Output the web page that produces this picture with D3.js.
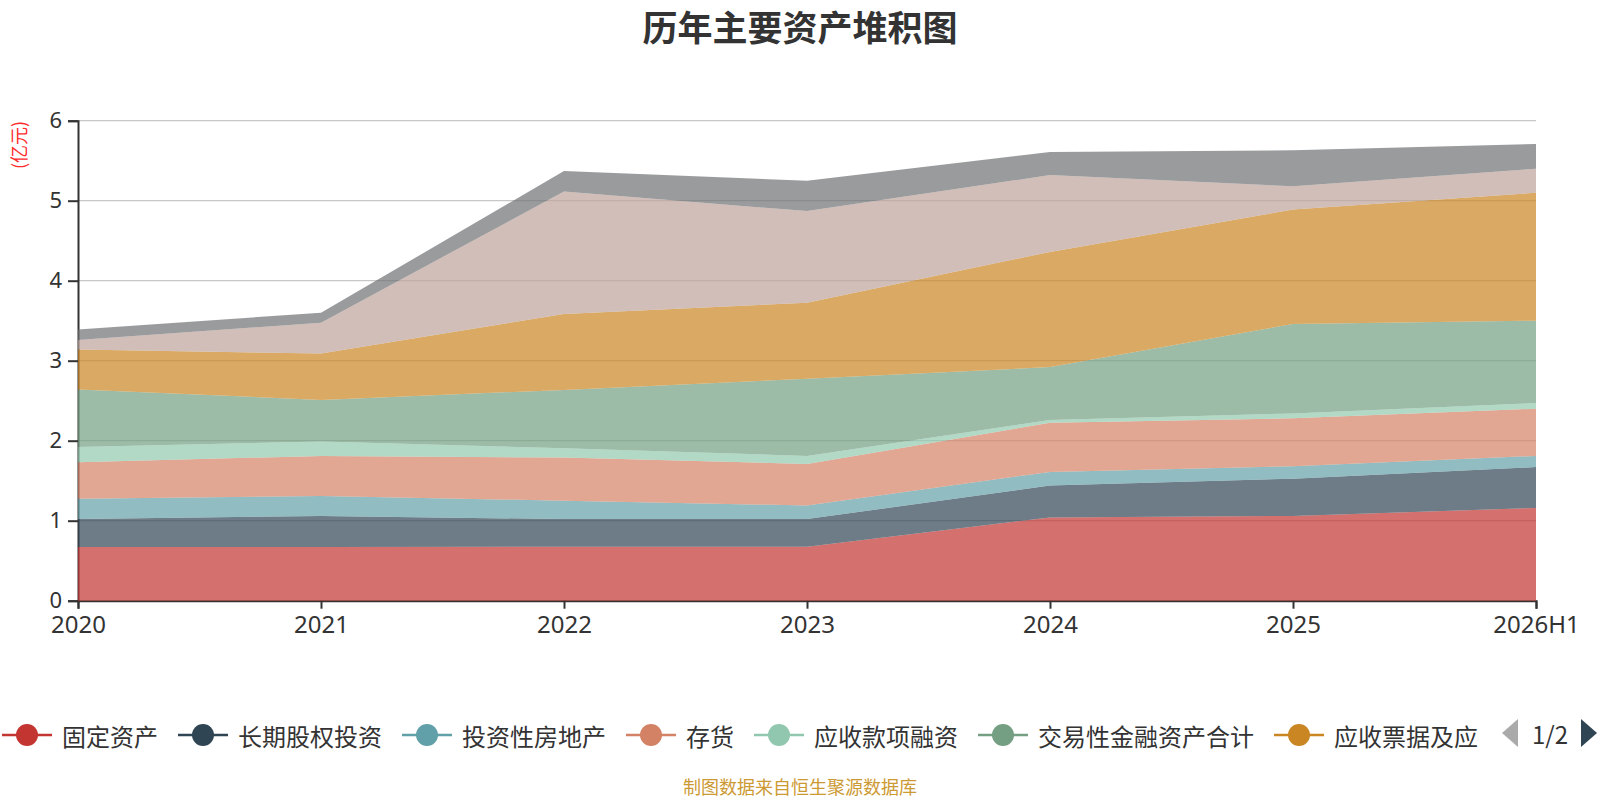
<!DOCTYPE html>
<html lang="zh">
<head>
<meta charset="utf-8">
<title>历年主要资产堆积图</title>
<script src="https://d3js.org/d3.v7.min.js"></script>
<style>
  body { margin: 0; background: #fff; }
  text { font-family: "Noto Sans CJK SC", "Noto Sans", sans-serif; }
</style>
</head>
<body>
<div id="chart"></div>
<script>
// data (亿元)
var categories = ["2020", "2021", "2022", "2023", "2024", "2025", "2026H1"];
var seriesNames = ["固定资产", "长期股权投资", "投资性房地产", "存货", "应收款项融资",
  "交易性金融资产合计", "应收票据及应收账款", "货币资金", "其他流动资产"];
var fixedAssets     = [0.67, 0.67, 0.675, 0.675, 1.04, 1.06, 1.16];
var longEquity      = [0.35, 0.39, 0.345, 0.345, 0.40, 0.465, 0.51];
var investProperty  = [0.255, 0.25, 0.23, 0.17, 0.17, 0.155, 0.14];
var inventory       = [0.455, 0.50, 0.54, 0.52, 0.615, 0.60, 0.59];
var receivableFin   = [0.19, 0.18, 0.115, 0.10, 0.035, 0.06, 0.07];
var tradingAssets   = [0.72, 0.52, 0.73, 0.965, 0.66, 1.12, 1.03];
var notesReceivable = [0.50, 0.58, 0.95, 0.95, 1.44, 1.43, 1.60];
var cashFunds       = [0.12, 0.385, 1.53, 1.145, 0.96, 0.29, 0.30];
var otherAssets     = [0.13, 0.125, 0.255, 0.38, 0.29, 0.45, 0.31];
var yTicks = [0, 1, 2, 3, 4, 5, 6];

var colors = ["#c23531", "#2f4554", "#61a0a8", "#d48265", "#91c7ae",
  "#749f83", "#ca8622", "#bda29a", "#6e7074"];
var allValues = [fixedAssets, longEquity, investProperty, inventory, receivableFin,
  tradingAssets, notesReceivable, cashFunds, otherAssets];

var w = 1600, h = 800;
var plotLeft = 78, plotRight = 1536, plotTop = 120.7, plotBottom = 600.7;

var rows = categories.map(function(c, i) {
  var r = { cat: c };
  seriesNames.forEach(function(n, k) { r[n] = allValues[k][i]; });
  return r;
});
var stacked = d3.stack().keys(seriesNames)(rows);

var svg = d3.select("#chart").append("svg")
  .attr("width", w).attr("height", h);

var x = d3.scalePoint().domain(categories).range([plotLeft, plotRight]);
var y = d3.scaleLinear().domain([0, 6]).range([plotBottom, plotTop]);

// title
svg.append("text")
  .attr("x", 800).attr("y", 25)
  .attr("text-anchor", "middle").attr("dominant-baseline", "central")
  .attr("font-size", 35).attr("font-weight", "bold").attr("fill", "#333")
  .text("历年主要资产堆积图");

// unit label
svg.append("text")
  .attr("transform", "translate(18,145) rotate(-90)")
  .attr("text-anchor", "middle").attr("dominant-baseline", "central")
  .attr("font-size", 18).attr("fill", "#ff2a2a")
  .text("(亿元)");

// grid
svg.append("g").selectAll("line").data(yTicks.slice(1)).enter()
  .append("line")
  .attr("x1", plotLeft).attr("x2", plotRight)
  .attr("y1", function(d) { return y(d); }).attr("y2", function(d) { return y(d); })
  .attr("stroke", "#c8c8c8").attr("stroke-width", 1.3);

// axes
var yAxis = svg.append("g")
  .attr("transform", "translate(" + plotLeft + ",0)")
  .call(d3.axisLeft(y).tickValues(yTicks).tickFormat(d3.format("d")).tickSize(10).tickPadding(6));
var xAxis = svg.append("g")
  .attr("transform", "translate(0," + plotBottom + ")")
  .call(d3.axisBottom(x).tickSize(8).tickPadding(7));
[yAxis, xAxis].forEach(function(g) {
  g.select(".domain").attr("stroke", "#333").attr("stroke-width", 2);
  g.selectAll(".tick line").attr("stroke", "#333").attr("stroke-width", 2);
  g.selectAll(".tick text").attr("fill", "#333")
    .style("font-family", "'Noto Sans', 'Open Sans', sans-serif");
});
yAxis.selectAll(".tick text").attr("font-size", 22);
xAxis.selectAll(".tick text").attr("font-size", 24);

// stacked areas
var area = d3.area()
  .x(function(d) { return x(d.data.cat); })
  .y0(function(d) { return y(d[0]); })
  .y1(function(d) { return y(d[1]); });

svg.append("g").selectAll("path").data(stacked).enter()
  .append("path")
  .attr("d", area)
  .attr("fill", function(d, i) { return colors[i]; })
  .attr("fill-opacity", 0.7);

// legend (scroll style, page 1 of 2) - items past the pager are trimmed
var legEnd = 1482;
var lx = 2, ly = 735;
for (var i = 0; i < seriesNames.length && lx + 60 < legEnd; i++) {
  var g = svg.append("g").attr("transform", "translate(" + lx + "," + ly + ")");
  g.append("line").attr("x1", 0).attr("x2", 50).attr("y1", 0).attr("y2", 0)
    .attr("stroke", colors[i]).attr("stroke-width", 2.5);
  g.append("circle").attr("cx", 25).attr("cy", 0).attr("r", 11)
    .attr("fill", colors[i]);
  var t = g.append("text").attr("x", 60).attr("y", 0)
    .attr("dominant-baseline", "central")
    .attr("font-size", 24).attr("fill", "#333").text(seriesNames[i]);
  var s = seriesNames[i];
  while (s.length > 1 && lx + 60 + t.node().getComputedTextLength() > legEnd) {
    s = s.slice(0, -1);
    t.text(s);
  }
  lx += 60 + t.node().getComputedTextLength() + 20;
}

// pager
svg.append("path").attr("d", "M1518,719 L1502,733 L1518,747 Z").attr("fill", "#aaa");
svg.append("text").attr("x", 1550).attr("y", 733)
  .attr("text-anchor", "middle").attr("dominant-baseline", "central")
  .attr("font-size", 24).attr("fill", "#333").text("1/2");
svg.append("path").attr("d", "M1581,719 L1597,733 L1581,747 Z").attr("fill", "#2f4554");

// source note
svg.append("text")
  .attr("x", 800).attr("y", 786)
  .attr("text-anchor", "middle").attr("dominant-baseline", "central")
  .attr("font-size", 18).attr("fill", "#cc9a33")
  .text("制图数据来自恒生聚源数据库");
</script>
</body>
</html>
